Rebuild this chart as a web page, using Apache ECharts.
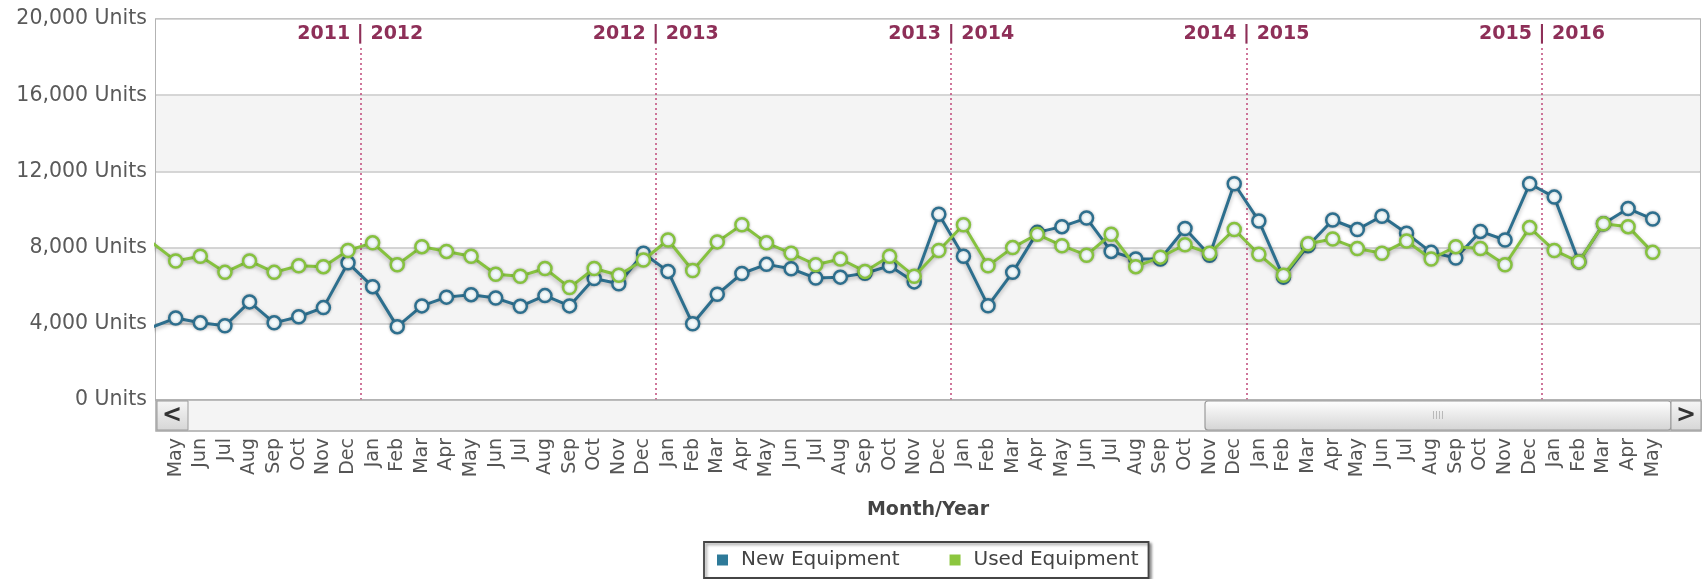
<!DOCTYPE html>
<html>
<head>
<meta charset="utf-8">
<script src="https://cdn.jsdelivr.net/npm/echarts@6/dist/echarts.min.js"></script>
<style>
  html, body { margin: 0; padding: 0; background: #fff; }
  #chart { width: 1702px; height: 579px; }
</style>
</head>
<body>
<div id="chart"></div>
<script>
// ---- data ----
const startYear = 2011;
const months = [
  'Apr','May','Jun','Jul','Aug','Sep','Oct','Nov','Dec',
  'Jan','Feb','Mar','Apr','May','Jun','Jul','Aug','Sep','Oct','Nov','Dec',
  'Jan','Feb','Mar','Apr','May','Jun','Jul','Aug','Sep','Oct','Nov','Dec',
  'Jan','Feb','Mar','Apr','May','Jun','Jul','Aug','Sep','Oct','Nov','Dec',
  'Jan','Feb','Mar','Apr','May','Jun','Jul','Aug','Sep','Oct','Nov','Dec',
  'Jan','Feb','Mar','Apr','May'
];
const newEquipment = [
  3800, 4300, 4050, 3900, 5150, 4050, 4370, 4850, 7200,
  5950, 3850, 4940, 5400, 5530, 5350, 4920, 5480, 4940, 6380, 6100, 7700,
  6750, 4000, 5550, 6640, 7120, 6890, 6400, 6450, 6650, 7050, 6200, 9750,
  7550, 4950, 6700, 8800, 9100, 9550, 7800, 7400, 7400, 9000, 7600, 11350,
  9400, 6450, 8100, 9450, 8950, 9650, 8750, 7750, 7450, 8850, 8400, 11350,
  10650, 7250, 9250, 10050, 9500
];
const usedEquipment = [
  8300, 7300, 7550, 6700, 7300, 6700, 7050, 7000, 7850,
  8250, 7100, 8050, 7800, 7550, 6600, 6500, 6900, 5900, 6900, 6550, 7350,
  8400, 6800, 8300, 9200, 8250, 7700, 7100, 7400, 6750, 7550, 6500, 7850,
  9200, 7050, 8000, 8700, 8100, 7600, 8700, 7000, 7500, 8150, 7700, 8950,
  7650, 6550, 8200, 8450, 7950, 7700, 8350, 7400, 8050, 7950, 7100, 9050,
  7850, 7250, 9250, 9100, 7750
];
const yTicks = [0, 4000, 8000, 12000, 16000, 20000];
const seriesNames = ['New Equipment', 'Used Equipment'];

// ---- styling ----
const BLUE = '#2d6f8e';
const GREEN = '#86c23f';
const FONT = 'DejaVu Sans';

const idx = months.map((_, i) => i);
const toPts = arr => arr.map((v, i) => [i, v]);

// year boundary lines (between Dec and Jan)
const yearLines = [];
let yr = startYear;
months.forEach((m, i) => {
  if (m === 'Jan' && i > 0) {
    const x = i - 0.5;
    yearLines.push([
      { coord: [x, 0] },
      { coord: [x, 18500], label: { formatter: (yr) + ' | ' + (yr + 1) } }
    ]);
    yr++;
  }
});

const chart = echarts.init(document.getElementById('chart'), null, { renderer: 'canvas' });

function lineSeries(name, data, color, extra) {
  return Object.assign({
    name: name,
    type: 'line',
    data: toPts(data),
    symbol: 'circle',
    symbolSize: 13,
    clip: true,
    lineStyle: { color: color, width: 3, shadowColor: 'rgba(0,0,0,0.28)', shadowBlur: 4, shadowOffsetY: 2 },
    itemStyle: { color: '#f4fbfd', borderColor: color, borderWidth: 2.5, shadowColor: 'rgba(0,0,0,0.25)', shadowBlur: 3 },
    emphasis: { disabled: true },
    z: 3
  }, extra || {});
}

const option = {
  animation: false,
  textStyle: { fontFamily: FONT },
  grid: {
    left: 156, top: 19, right: 2, bottom: 179,
    show: true, borderColor: '#9a9a9a', borderWidth: 1.5, backgroundColor: 'transparent'
  },
  xAxis: {
    type: 'value',
    min: 0.2,
    max: 62.92,
    axisLine: { show: false },
    axisTick: { show: false },
    splitLine: { show: false },
    axisLabel: {
      customValues: idx,
      formatter: v => months[Math.round(v)] || '',
      rotate: 90,
      margin: 38,
      fontSize: 19,
      color: '#555',
      fontFamily: FONT
    },
    name: 'Month/Year',
    nameLocation: 'middle',
    nameGap: 101,
    nameTextStyle: { fontFamily: FONT, fontWeight: 'bold', fontSize: 19, color: '#444' }
  },
  yAxis: {
    type: 'value',
    min: yTicks[0],
    max: yTicks[yTicks.length - 1],
    interval: yTicks[1] - yTicks[0],
    axisLine: { show: false },
    axisTick: { show: false },
    axisLabel: {
      formatter: v => v.toLocaleString('en-US') + ' Units',
      fontSize: 20.5,
      color: '#5a5a5a',
      margin: 9,
      fontFamily: FONT
    },
    splitLine: { lineStyle: { color: '#c8c8c8', width: 1.5 } },
    splitArea: { show: true, areaStyle: { color: ['#ffffff', '#f4f4f4'] } }
  },
  legend: {
    left: 704,
    top: 542,
    orient: 'horizontal',
    itemWidth: 11,
    itemHeight: 11,
    itemGap: 50,
    icon: 'rect',
    padding: [8, 10, 8, 13],
    borderColor: '#444',
    borderWidth: 1.8,
    backgroundColor: '#fff',
    shadowColor: 'rgba(0,0,0,0.4)',
    shadowBlur: 3,
    shadowOffsetX: 2,
    shadowOffsetY: 2,
    textStyle: { fontSize: 20, color: '#444', fontFamily: FONT, padding: [0, 0, 0, 8] },
    data: [
      { name: seriesNames[0], itemStyle: { color: '#2e7a99', borderWidth: 0, shadowBlur: 0 } },
      { name: seriesNames[1], itemStyle: { color: '#8cc63e', borderWidth: 0, shadowBlur: 0 } }
    ]
  },
  series: [
    lineSeries(seriesNames[0], newEquipment, BLUE, {
      markLine: {
        silent: true,
        symbol: 'none',
        z: 1,
        lineStyle: { color: '#c0497a', width: 1.5, type: [2, 3] },
        label: {
          show: true,
          position: 'end',
          distance: 4,
          color: '#8e2f58',
          fontSize: 19,
          fontWeight: 'bold',
          fontFamily: FONT
        },
        emphasis: { disabled: true },
        data: yearLines
      }
    }),
    lineSeries(seriesNames[1], usedEquipment, GREEN, { z: 4 })
  ],
  graphic: [
    // scrollbar track
    { type: 'rect', shape: { x: 156, y: 400, width: 1545, height: 31 },
      style: { fill: '#f4f4f4', stroke: '#a8a8a8', lineWidth: 1.5 }, z: 10 },
    // left button
    { type: 'rect', shape: { x: 157, y: 401, width: 31, height: 29 },
      style: { fill: new echarts.graphic.LinearGradient(0, 0, 0, 1, [{ offset: 0, color: '#f6f6f6' }, { offset: 1, color: '#d6d6d6' }]), stroke: '#9a9a9a', lineWidth: 1 }, z: 11 },
    { type: 'text', x: 172, y: 416, style: { text: '<', fontSize: 24, fontWeight: 'bold', fill: '#333', align: 'center', verticalAlign: 'middle', fontFamily: FONT }, z: 12 },
    // thumb
    { type: 'rect', shape: { x: 1205, y: 401, width: 466, height: 29, r: 3 },
      style: { fill: new echarts.graphic.LinearGradient(0, 0, 0, 1, [{ offset: 0, color: '#ffffff' }, { offset: 1, color: '#d4d4d4' }]), stroke: '#9a9a9a', lineWidth: 1.2 }, z: 11 },
    { type: 'text', x: 1438, y: 416, style: { text: 'IIII', fontSize: 10, fill: '#b8b8b8', align: 'center', verticalAlign: 'middle', fontFamily: FONT }, z: 12 },
    // right button
    { type: 'rect', shape: { x: 1671, y: 401, width: 30, height: 29 },
      style: { fill: new echarts.graphic.LinearGradient(0, 0, 0, 1, [{ offset: 0, color: '#f6f6f6' }, { offset: 1, color: '#d6d6d6' }]), stroke: '#9a9a9a', lineWidth: 1 }, z: 11 },
    { type: 'text', x: 1686, y: 416, style: { text: '>', fontSize: 24, fontWeight: 'bold', fill: '#333', align: 'center', verticalAlign: 'middle', fontFamily: FONT }, z: 12 }
  ]
};

chart.setOption(option);
</script>
</body>
</html>
